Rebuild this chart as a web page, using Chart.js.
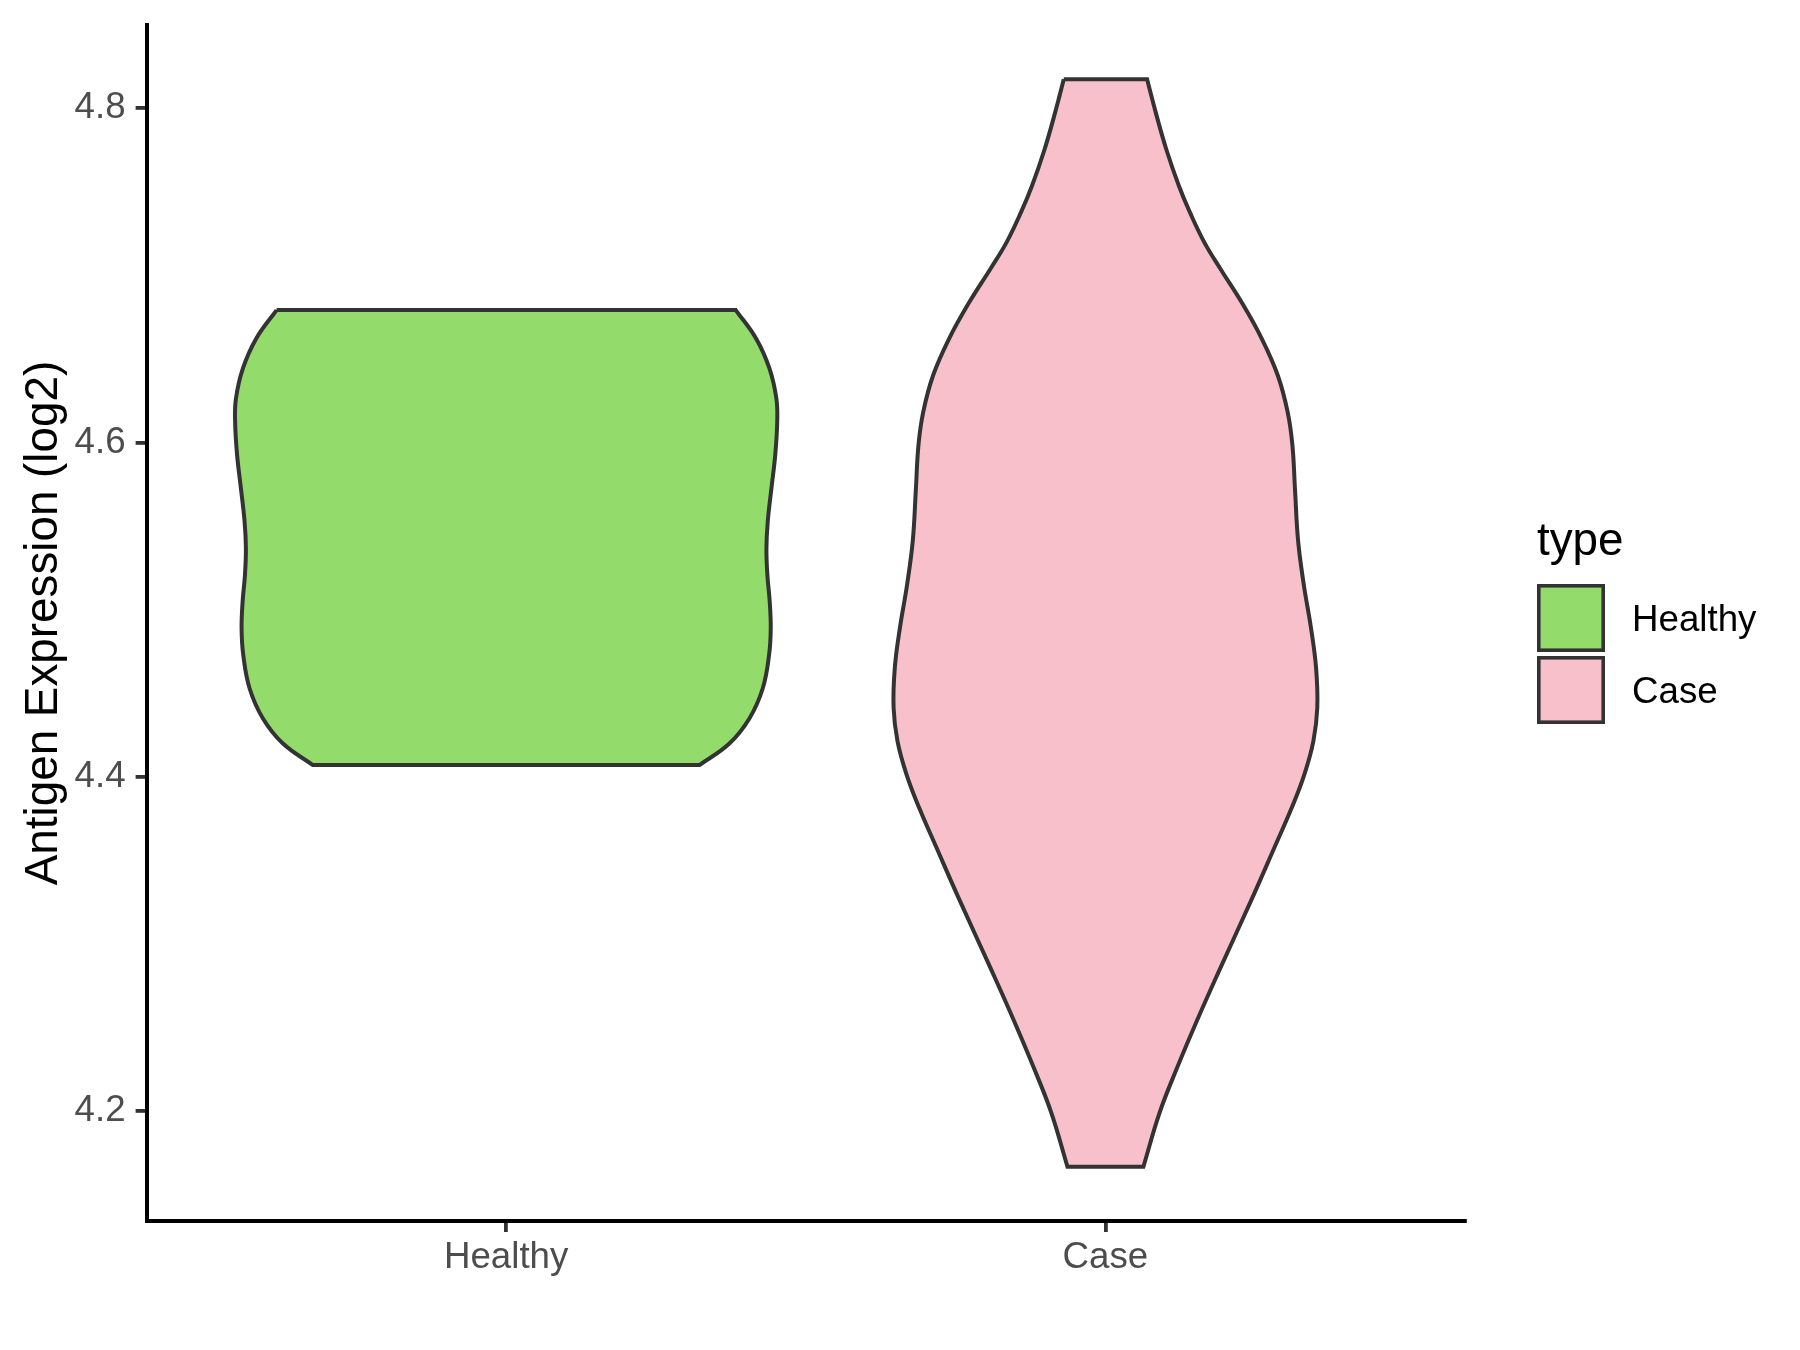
<!DOCTYPE html>
<html>
<head>
<meta charset="utf-8">
<script src="https://cdn.jsdelivr.net/npm/chart.js@4.4.1/dist/chart.umd.min.js"></script>
<style>
  html, body { margin: 0; padding: 0; background: #ffffff; }
  canvas { display: block; }
</style>
</head>
<body>
<canvas id="c" width="1800" height="1350"></canvas>
<script>
// ---------------- data ----------------
const categories = ['Healthy', 'Case'];
const yTicks = [4.2, 4.4, 4.6, 4.8];
const yTitle = 'Antigen Expression (log2)';
const legendTitle = 'type';

// violin outlines: expression value (log2) and half-width (x-axis units)
const healthyValues = [4.6792, 4.6622, 4.6443, 4.6263, 4.6124, 4.5925, 4.5725, 4.5526, 4.5366,
                       4.5207, 4.5047, 4.4887, 4.4728, 4.4528, 4.4349, 4.4199, 4.4070];
const healthyHalfWidth = [0.3831, 0.4170, 0.4393, 0.4509, 0.4523, 0.4490, 0.4426, 0.4365, 0.4343,
                          0.4359, 0.4398, 0.4415, 0.4387, 0.4281, 0.4059, 0.3725, 0.3225];

const caseValues = [4.8172, 4.7973, 4.7754, 4.7536, 4.7376, 4.7197, 4.7038, 4.6840, 4.6620, 4.6402,
                    4.6183, 4.5984, 4.5707, 4.5412, 4.5149, 4.4890, 4.4651, 4.4413, 4.4214, 4.4015,
                    4.3816, 4.3577, 4.3259, 4.2842, 4.2544, 4.2246, 4.1987, 4.1668];
const caseHalfWidth = [0.0695, 0.0840, 0.1015, 0.1225, 0.1410, 0.1650, 0.1920, 0.2270, 0.2610, 0.2875,
                       0.3040, 0.3120, 0.3165, 0.3215, 0.3310, 0.3430, 0.3515, 0.3535, 0.3470, 0.3320,
                       0.3110, 0.2820, 0.2430, 0.1900, 0.1530, 0.1180, 0.0900, 0.0634];

const fillColors = ['#93DB6B', '#F7C0CB'];
const outlineColor = '#333333';

// ---------------- build outline points ----------------
function violinOutline(center, vals, hw) {
  const n = vals.length;
  const pts = [];
  const P = (x, y) => pts.push({ x: x, y: y });
  // top edge (corners doubled so the spline keeps them sharp)
  P(center - hw[0], vals[0]);
  P(center + hw[0], vals[0]);
  P(center + hw[0], vals[0]);
  for (let i = 1; i < n - 1; i++) P(center + hw[i], vals[i]);
  P(center + hw[n - 1], vals[n - 1]);
  P(center + hw[n - 1], vals[n - 1]);
  P(center - hw[n - 1], vals[n - 1]);
  P(center - hw[n - 1], vals[n - 1]);
  for (let i = n - 2; i >= 1; i--) P(center - hw[i], vals[i]);
  P(center - hw[0], vals[0]);
  return pts;
}

const series = [
  { label: categories[0], pts: violinOutline(1, healthyValues, healthyHalfWidth), color: fillColors[0] },
  { label: categories[1], pts: violinOutline(2, caseValues, caseHalfWidth), color: fillColors[1] }
];

const FONT = '"Liberation Sans", Arial, Helvetica, sans-serif';

// y range with 5% expansion of the data range
const allVals = healthyValues.concat(caseValues);
const dMin = Math.min.apply(null, allVals), dMax = Math.max.apply(null, allVals);
const yPad = (dMax - dMin) * 0.05;

const legendPlugin = {
  id: 'ggLegend',
  afterDraw(chart) {
    const ctx = chart.ctx;
    ctx.save();
    ctx.textAlign = 'left';
    ctx.textBaseline = 'alphabetic';
    ctx.fillStyle = '#000000';
    ctx.font = '45.8px ' + FONT;
    ctx.fillText(legendTitle, 1537, 555);
    const keyX = 1537, keyW = 68, keyTops = [584, 656];
    ctx.font = '36.7px ' + FONT;
    categories.forEach((c, i) => {
      const top = keyTops[i];
      ctx.fillStyle = fillColors[i];
      ctx.fillRect(keyX + 1.8, top + 1.8, keyW - 3.6, keyW - 3.6);
      ctx.strokeStyle = outlineColor;
      ctx.lineWidth = 3.6;
      ctx.lineJoin = 'miter';
      ctx.strokeRect(keyX + 1.8, top + 1.8, keyW - 3.6, keyW - 3.6);
      ctx.fillStyle = '#000000';
      ctx.fillText(c, 1632, top + 47);
    });
    ctx.restore();
  }
};

const tickGrid = {
  display: true,
  drawOnChartArea: false,
  drawTicks: true,
  tickLength: 11,
  tickColor: '#333333',
  tickWidth: 3.8,
  lineWidth: 3.8,
  color: '#333333'
};

new Chart(document.getElementById('c'), {
  type: 'scatter',
  data: {
    datasets: series.map(s => ({
      label: s.label,
      data: s.pts,
      showLine: true,
      fill: 'shape',
      backgroundColor: s.color,
      borderColor: outlineColor,
      borderWidth: 4,
      borderJoinStyle: 'miter',
      tension: 0.4,
      pointRadius: 0,
      pointHoverRadius: 0,
      pointHitRadius: 0
    }))
  },
  options: {
    responsive: false,
    devicePixelRatio: 1,
    animation: false,
    events: [],
    layout: { padding: { left: 0, right: 335, top: 25, bottom: 0 } },
    plugins: {
      legend: { display: false },
      tooltip: { enabled: false },
      title: { display: false }
    },
    scales: {
      x: {
        type: 'linear',
        min: 0.4,
        max: 2.6,
        afterBuildTicks: (scale) => { scale.ticks = categories.map((c, i) => ({ value: i + 1 })); },
        afterFit: (scale) => { scale.height = 129; },
        ticks: {
          callback: (v) => categories[Math.round(v) - 1],
          color: '#4D4D4D',
          font: { family: FONT, size: 36.7, lineHeight: 1.2 },
          padding: 3.5,
          maxRotation: 0,
          autoSkip: false
        },
        grid: tickGrid,
        border: { display: true, color: '#000000', width: 4 }
      },
      y: {
        type: 'linear',
        min: dMin - yPad,
        max: dMax + yPad,
        afterBuildTicks: (scale) => { scale.ticks = yTicks.map(v => ({ value: v })); },
        afterFit: (scale) => { scale.width = 146.6; },
        ticks: {
          callback: (v) => Number(v).toFixed(1),
          color: '#4D4D4D',
          font: { family: FONT, size: 36.7, lineHeight: 0.5 },
          padding: 10,
          autoSkip: false
        },
        grid: tickGrid,
        border: { display: true, color: '#000000', width: 4 },
        title: {
          display: true,
          text: yTitle,
          color: '#000000',
          font: { family: FONT, size: 45.8, lineHeight: 1.2 },
          padding: { top: 16.5, bottom: 0 }
        }
      }
    }
  },
  plugins: [legendPlugin]
});
</script>
</body>
</html>
